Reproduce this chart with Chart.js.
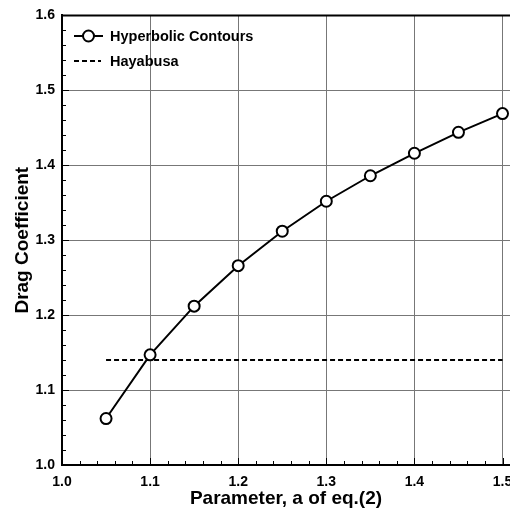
<!DOCTYPE html>
<html>
<head>
<meta charset="utf-8">
<script src="https://cdn.jsdelivr.net/npm/chart.js@4"></script>
<style>
  html, body { margin: 0; padding: 0; background: #fff; }
  #wrap { width: 510px; height: 510px; }
</style>
</head>
<body>
<div id="wrap"><canvas id="grafico" width="510" height="510"></canvas></div>
<script>
const paramA = [1.05, 1.10, 1.15, 1.20, 1.25, 1.30, 1.35, 1.40, 1.45, 1.50];
const dragHyperbolic = [1.062, 1.147, 1.212, 1.266, 1.312, 1.352, 1.386, 1.416, 1.444, 1.469];
const hayabusaX = [1.05, 1.50];
const hayabusaCd = [1.14, 1.14];
const xTicks = [1.0, 1.1, 1.2, 1.3, 1.4, 1.5];
const yTicks = [1.0, 1.1, 1.2, 1.3, 1.4, 1.5, 1.6];

const fuente = '"Liberation Sans", Arial, Helvetica, sans-serif';
const grafx = document.getElementById('grafico').getContext('2d');

// the original plot runs off the right edge, so let the x axis use the full width
const sinMargen = {
  id: 'sinMargen',
  afterLayout(chart) {
    const xs = chart.scales.x;
    const gap = chart.width - chart.chartArea.right;
    if (gap > 0) {
      chart.chartArea.right += gap;
      chart.chartArea.width += gap;
      xs.right += gap;
      xs.width += gap;
      xs.configure();
    }
  }
};

// minor ticks pointing inward + top frame + legend inside plot
const extras = {
  id: 'extras',
  afterDraw(chart) {
    const c = chart.ctx;
    const area = chart.chartArea;
    const xs = chart.scales.x;
    const ys = chart.scales.y;
    c.save();
    c.strokeStyle = '#000';
    c.lineWidth = 1;
    c.beginPath();
    for (let i = 0; i <= 30; i++) {
      const py = Math.round(ys.getPixelForValue(1.0 + i * 0.02)) + 0.5;
      const len = i % 5 === 0 ? 7 : 4;
      c.moveTo(area.left, py);
      c.lineTo(area.left + len, py);
    }
    for (let i = 0; i <= 25; i++) {
      const px = Math.round(xs.getPixelForValue(1.0 + i * 0.02)) + 0.5;
      const len = i % 5 === 0 ? 7 : 4;
      c.moveTo(px, area.bottom);
      c.lineTo(px, area.bottom - len);
    }
    c.stroke();

    // top frame
    c.lineWidth = 2;
    c.beginPath();
    c.moveTo(area.left - 1, area.top);
    c.lineTo(area.right, area.top);
    c.stroke();

    // legend
    const lx = 74, lw = 29;
    c.lineWidth = 2;
    c.beginPath();
    c.moveTo(lx, 36);
    c.lineTo(lx + lw, 36);
    c.stroke();
    c.beginPath();
    c.arc(lx + lw / 2, 36, 5.5, 0, Math.PI * 2);
    c.fillStyle = '#fff';
    c.fill();
    c.stroke();
    c.setLineDash([5, 3]);
    c.beginPath();
    c.moveTo(lx, 61);
    c.lineTo(lx + lw - 2, 61);
    c.stroke();
    c.setLineDash([]);
    c.fillStyle = '#000';
    c.font = 'bold 14.5px ' + fuente;
    c.textBaseline = 'middle';
    c.textAlign = 'left';
    c.fillText('Hyperbolic Contours', 110, 37);
    c.fillText('Hayabusa', 110, 62);
    c.restore();
  }
};

const grafico = new Chart(grafx, {
  type: 'line',
  data: {
    datasets: [{
      label: 'Hyperbolic Contours',
      data: paramA.map((v, i) => ({ x: v, y: dragHyperbolic[i] })),
      borderColor: '#000',
      borderWidth: 2,
      pointRadius: 5.5,
      pointBorderWidth: 2,
      pointBackgroundColor: '#fff',
      pointBorderColor: '#000',
      tension: 0
    }, {
      label: 'Hayabusa',
      data: hayabusaX.map((v, i) => ({ x: v, y: hayabusaCd[i] })),
      borderColor: '#000',
      borderWidth: 2,
      borderDash: [5, 3],
      pointRadius: 0,
      tension: 0
    }]
  },
  options: {
    animation: false,
    responsive: false,
    layout: { padding: { top: 15, right: 0, left: 0, bottom: 0 } },
    plugins: { legend: { display: false }, tooltip: { enabled: false } },
    scales: {
      x: {
        type: 'linear',
        min: 1.0,
        max: 1.5085,
        afterBuildTicks: s => { s.ticks = xTicks.map(v => ({ value: v })); },
        afterFit: s => { s.height = 45; },
        grid: { color: '#777', lineWidth: 1, drawTicks: false },
        border: { color: '#000', width: 2 },
        ticks: {
          padding: 9,
          color: '#000',
          maxRotation: 0,
          font: { family: fuente, size: 14, weight: 'bold' },
          callback: v => v.toFixed(1)
        },
        title: {
          display: true,
          text: 'Parameter, a of eq.(2)',
          color: '#000',
          padding: { top: 0, bottom: 0 },
          font: { family: fuente, size: 19, weight: 'bold' }
        }
      },
      y: {
        min: 1.0,
        max: 1.6,
        afterBuildTicks: s => { s.ticks = yTicks.map(v => ({ value: v })); },
        afterFit: s => { s.width = 62; },
        grid: { color: '#777', lineWidth: 1, drawTicks: false },
        border: { color: '#000', width: 2 },
        ticks: {
          padding: 7,
          color: '#000',
          font: { family: fuente, size: 14, weight: 'bold' },
          callback: v => v.toFixed(1)
        },
        title: {
          display: true,
          text: 'Drag Coefficient',
          color: '#000',
          padding: { top: 11, bottom: 0 },
          font: { family: fuente, size: 19, weight: 'bold' }
        }
      }
    }
  },
  plugins: [sinMargen, extras]
});
</script>
</body>
</html>
